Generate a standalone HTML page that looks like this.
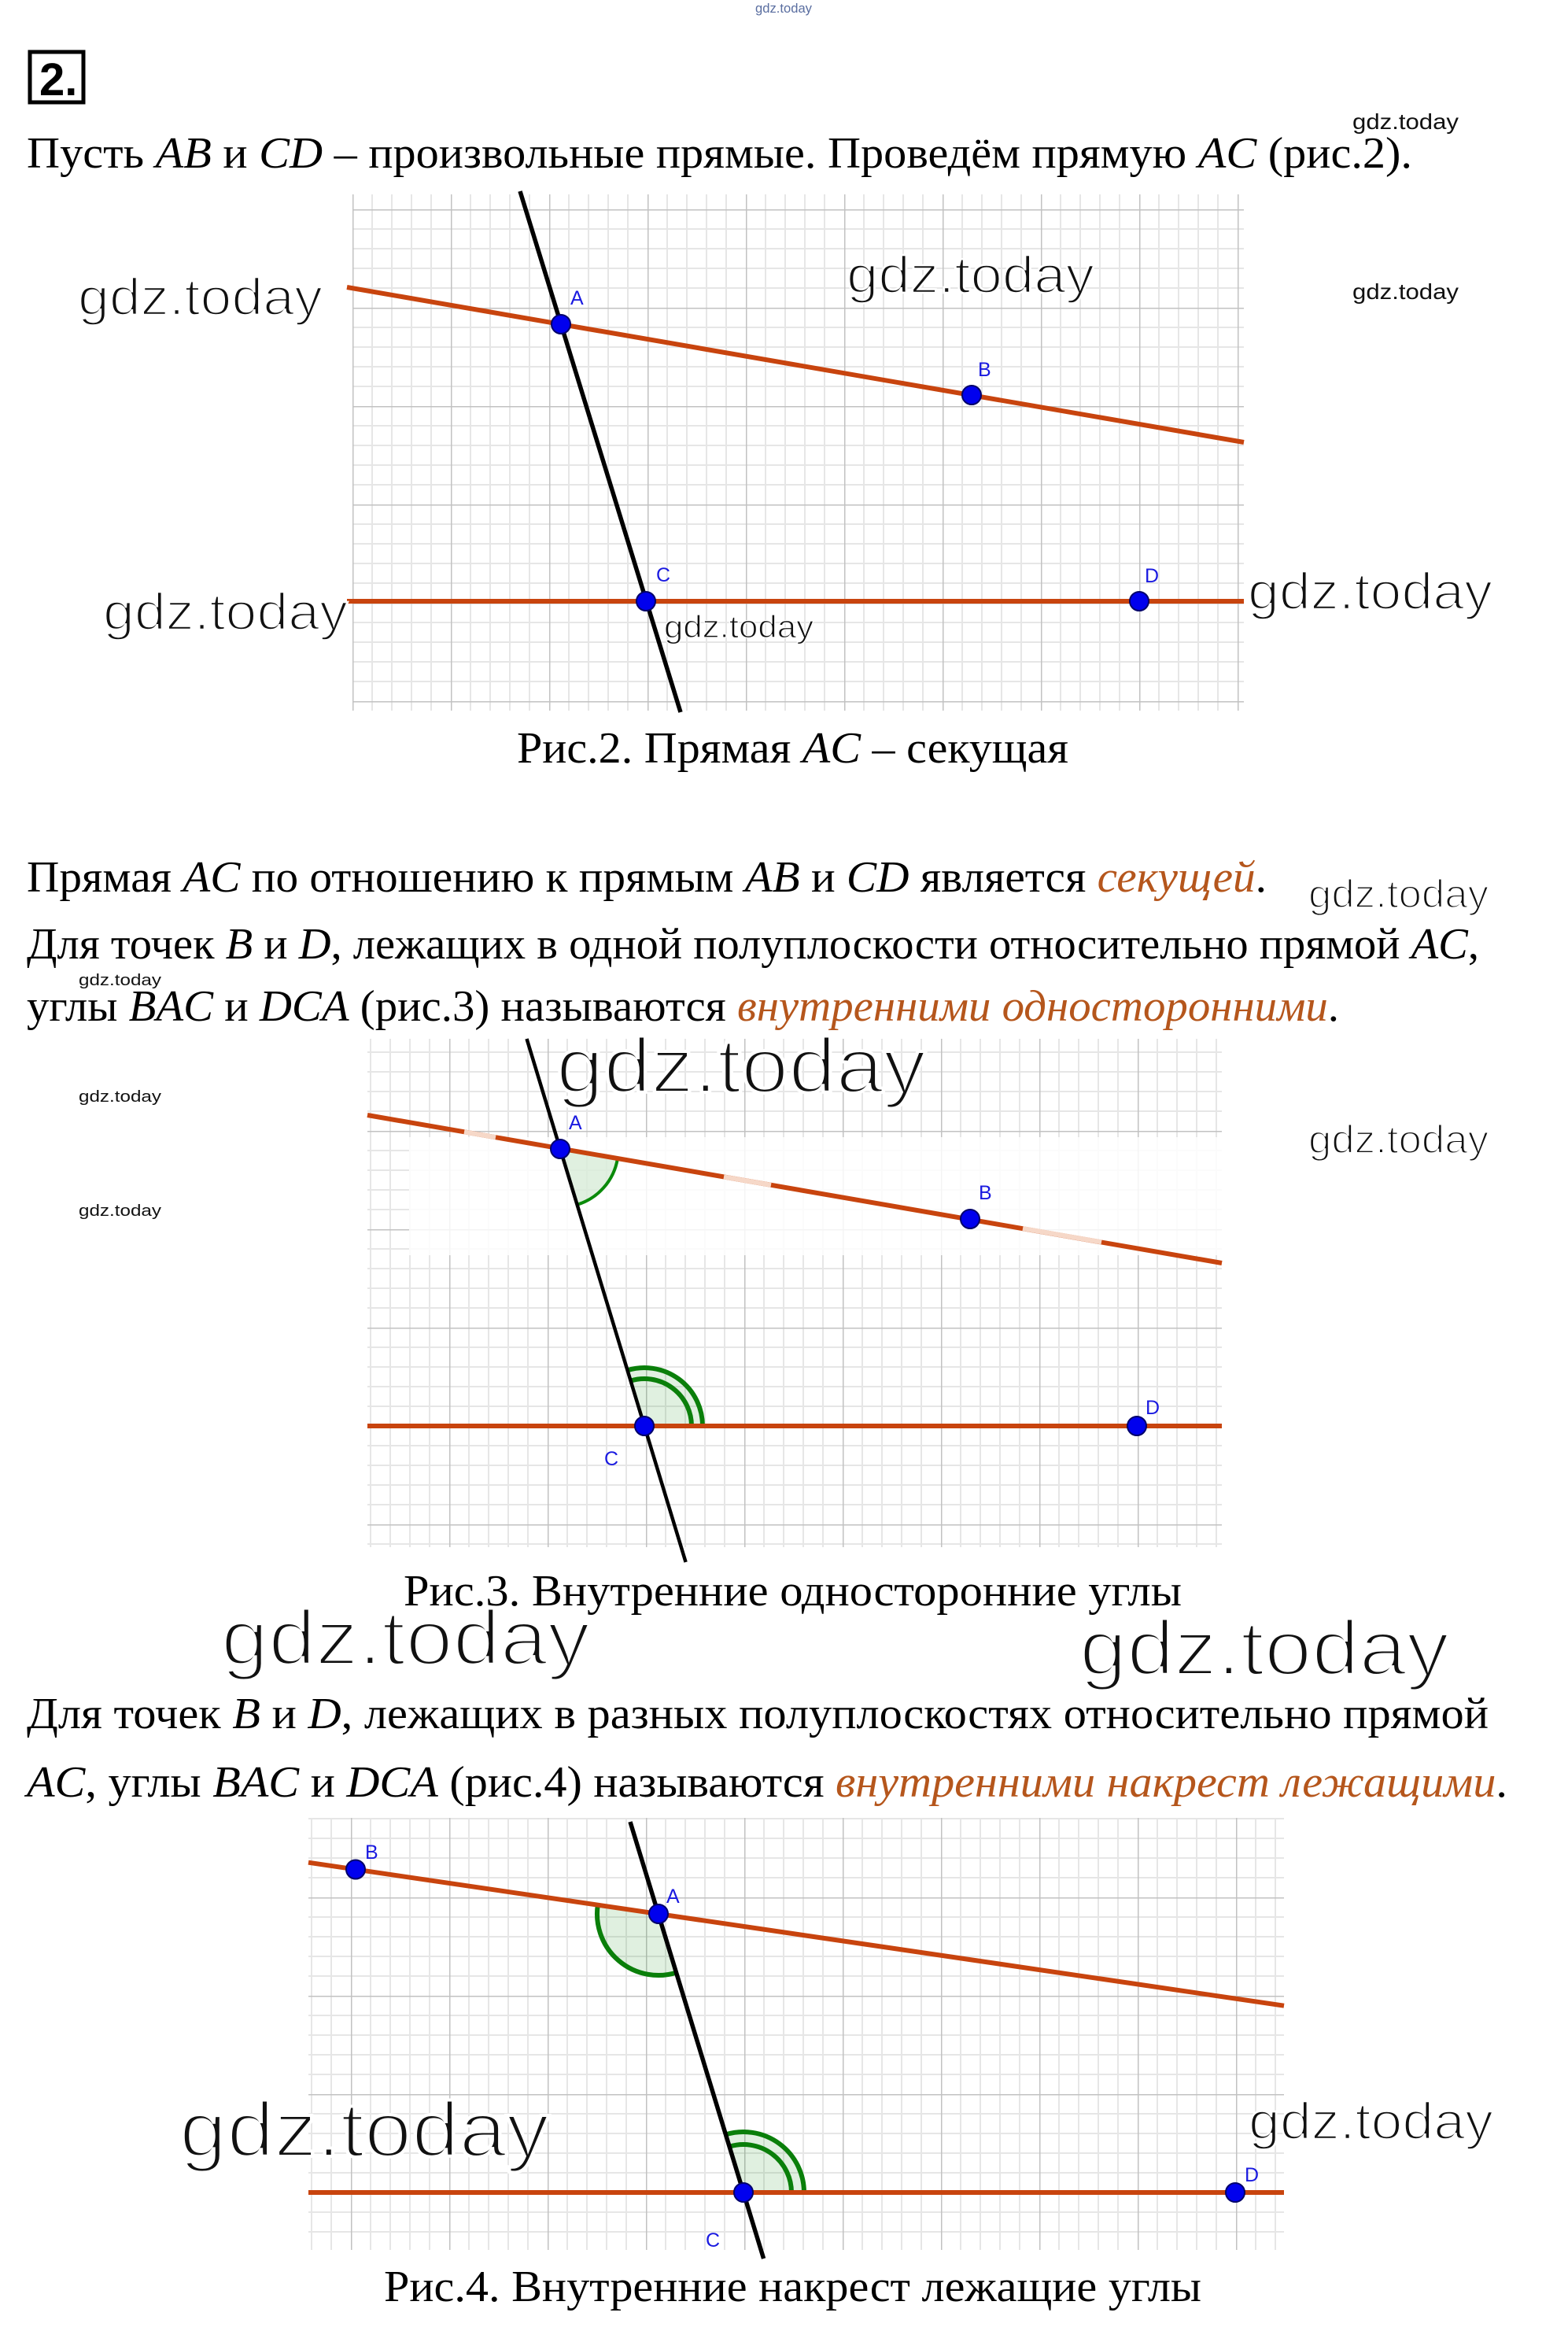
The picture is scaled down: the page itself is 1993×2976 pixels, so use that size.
<!DOCTYPE html>
<html><head><meta charset="utf-8"><style>html,body{margin:0;padding:0;background:#fff}svg{display:block}</style></head>
<body>
<svg xmlns="http://www.w3.org/2000/svg" width="1993" height="2976" viewBox="0 0 1993 2976">
<defs>
<pattern id="g2" patternUnits="userSpaceOnUse" x="448" y="266" width="125" height="125">
<path d="M25 0V125M50 0V125M75 0V125M100 0V125M0 25H125M0 50H125M0 75H125M0 100H125" stroke="#e6e6e6" stroke-width="2" fill="none"/>
<path d="M0 0V125M0 0H125" stroke="#c2c2c2" stroke-width="3" fill="none"/>
</pattern>
<pattern id="g3" patternUnits="userSpaceOnUse" x="571" y="1437" width="125" height="125">
<path d="M25 0V125M50 0V125M75 0V125M100 0V125M0 25H125M0 50H125M0 75H125M0 100H125" stroke="#e6e6e6" stroke-width="2" fill="none"/>
<path d="M0 0V125M0 0H125" stroke="#c2c2c2" stroke-width="3" fill="none"/>
</pattern>
<pattern id="g4" patternUnits="userSpaceOnUse" x="946" y="2786" width="125" height="125">
<path d="M25 0V125M50 0V125M75 0V125M100 0V125M0 25H125M0 50H125M0 75H125M0 100H125" stroke="#e6e6e6" stroke-width="2" fill="none"/>
<path d="M0 0V125M0 0H125" stroke="#c2c2c2" stroke-width="3" fill="none"/>
</pattern>
</defs>

<g font-family="Liberation Sans, sans-serif" fill="#111">
<text x="960" y="16" font-size="17" fill="#5a6ea0" textLength="72" lengthAdjust="spacingAndGlyphs">gdz.today</text>
</g>

<rect x="38" y="66" width="68" height="64" fill="none" stroke="#000" stroke-width="5"/>
<text x="50" y="121" font-family="Liberation Sans, sans-serif" font-weight="bold" font-size="58">2.</text>

<g font-family="Liberation Serif, serif" font-size="56" fill="#000">
<text x="34" y="213" textLength="1761" lengthAdjust="spacingAndGlyphs">Пусть <tspan font-style="italic">AB</tspan> и <tspan font-style="italic">CD</tspan> – произвольные прямые. Проведём прямую <tspan font-style="italic">AC</tspan> (рис.2).</text>
<text x="657" y="969" textLength="701" lengthAdjust="spacingAndGlyphs">Рис.2. Прямая <tspan font-style="italic">AC</tspan> – секущая</text>
<text x="34" y="1133" textLength="1576" lengthAdjust="spacingAndGlyphs">Прямая <tspan font-style="italic">AC</tspan> по отношению к прямым <tspan font-style="italic">AB</tspan> и <tspan font-style="italic">CD</tspan> является <tspan font-style="italic" fill="#b5561c">секущей</tspan>.</text>
<text x="34" y="1218" textLength="1846" lengthAdjust="spacingAndGlyphs">Для точек <tspan font-style="italic">B</tspan> и <tspan font-style="italic">D</tspan>, лежащих в одной полуплоскости относительно прямой <tspan font-style="italic">AC</tspan>,</text>
<text x="34" y="1297" textLength="1668" lengthAdjust="spacingAndGlyphs">углы <tspan font-style="italic">BAC</tspan> и <tspan font-style="italic">DCA</tspan> (рис.3) называются <tspan font-style="italic" fill="#b5561c">внутренними односторонними</tspan>.</text>
<text x="513" y="2040" textLength="989" lengthAdjust="spacingAndGlyphs">Рис.3. Внутренние односторонние углы</text>
<text x="34" y="2196" textLength="1858" lengthAdjust="spacingAndGlyphs">Для точек <tspan font-style="italic">B</tspan> и <tspan font-style="italic">D</tspan>, лежащих в разных полуплоскостях относительно прямой</text>
<text x="34" y="2283" textLength="1882" lengthAdjust="spacingAndGlyphs"><tspan font-style="italic">AC</tspan>, углы <tspan font-style="italic">BAC</tspan> и <tspan font-style="italic">DCA</tspan> (рис.4) называются <tspan font-style="italic" fill="#b5561c">внутренними накрест лежащими</tspan>.</text>
<text x="488" y="2924" textLength="1039" lengthAdjust="spacingAndGlyphs">Рис.4. Внутренние накрест лежащие углы</text>
</g>

<!-- FIG 2 -->
<rect x="448" y="247" width="1133" height="656" fill="url(#g2)"/>
<line x1="441" y1="365" x2="1581" y2="562" stroke="#c8440e" stroke-width="6"/>
<line x1="441" y1="764" x2="1581" y2="764" stroke="#c8440e" stroke-width="6"/>
<line x1="661" y1="243" x2="865" y2="905" stroke="#000" stroke-width="5.5"/>
<g fill="#0000ee" stroke="#00006a" stroke-width="2">
<circle cx="713" cy="412" r="12"/><circle cx="1235" cy="502" r="12"/><circle cx="821" cy="764" r="12"/><circle cx="1448" cy="764" r="12"/>
</g>
<g font-family="Liberation Sans, sans-serif" font-size="25" fill="#1a1ae0">
<text x="725" y="387">A</text><text x="1243" y="478">B</text><text x="834" y="739">C</text><text x="1455" y="740">D</text>
</g>

<!-- FIG 3 -->
<rect x="467" y="1320" width="1086" height="646" fill="url(#g3)"/>
<rect x="520" y="1445" width="1033" height="150" fill="#fff" opacity="0.82"/>
<path d="M712 1460 L784.9 1472.6 A74 74 0 0 1 733.5 1530.8 Z" fill="rgba(0,128,0,0.12)" stroke="none"/>
<path d="M784.9 1472.6 A74 74 0 0 1 733.5 1530.8" fill="none" stroke="#0a8a0a" stroke-width="4"/>
<path d="M819 1812 L797.5 1741.2 A74 74 0 0 1 893 1812 Z" fill="rgba(0,128,0,0.12)"/>
<path d="M797.5 1741.2 A74 74 0 0 1 893 1812" fill="none" stroke="#0a7f0a" stroke-width="6"/>
<path d="M801.6 1754.6 A60 60 0 0 1 879 1812" fill="none" stroke="#0a7f0a" stroke-width="6"/>
<line x1="467" y1="1417" x2="1553" y2="1605" stroke="#c8440e" stroke-width="6"/>
<g stroke="#f6d8c8" stroke-width="6">
<line x1="590" y1="1438.3" x2="630" y2="1445.2"/><line x1="920" y1="1495.4" x2="980" y2="1505.8"/><line x1="1300" y1="1561.1" x2="1400" y2="1578.4"/>
</g>
<line x1="467" y1="1812" x2="1553" y2="1812" stroke="#c8440e" stroke-width="6"/>
<line x1="669.5" y1="1320" x2="871.6" y2="1985" stroke="#000" stroke-width="4.5"/>
<g fill="#0000ee" stroke="#00006a" stroke-width="2">
<circle cx="712" cy="1460" r="12"/><circle cx="1233" cy="1549" r="12"/><circle cx="819" cy="1812" r="12"/><circle cx="1445" cy="1812" r="12"/>
</g>
<g font-family="Liberation Sans, sans-serif" font-size="25" fill="#1a1ae0">
<text x="723" y="1435">A</text><text x="1244" y="1524">B</text><text x="768" y="1862">C</text><text x="1456" y="1797">D</text>
</g>

<!-- FIG 4 -->
<rect x="392" y="2310" width="1240" height="549" fill="url(#g4)"/>
<path d="M837 2432 L859.8 2506.6 A78 78 0 0 1 759.8 2420.7 Z" fill="rgba(0,128,0,0.12)"/>
<path d="M859.8 2506.6 A78 78 0 0 1 759.8 2420.7" fill="none" stroke="#0a7f0a" stroke-width="6"/>
<path d="M945 2786 L922.5 2712.4 A77 77 0 0 1 1022 2786 Z" fill="rgba(0,128,0,0.12)"/>
<path d="M922.5 2712.4 A77 77 0 0 1 1022 2786" fill="none" stroke="#0a7f0a" stroke-width="6"/>
<path d="M927.2 2727.7 A61 61 0 0 1 1006 2786" fill="none" stroke="#0a7f0a" stroke-width="6"/>
<line x1="392" y1="2366.7" x2="1632" y2="2548.7" stroke="#c8440e" stroke-width="6"/>
<line x1="392" y1="2786" x2="1632" y2="2786" stroke="#c8440e" stroke-width="6"/>
<line x1="801" y1="2315" x2="970.6" y2="2870" stroke="#000" stroke-width="5.5"/>
<g fill="#0000ee" stroke="#00006a" stroke-width="2">
<circle cx="452" cy="2375.5" r="12"/><circle cx="837" cy="2432" r="12"/><circle cx="945" cy="2786" r="12"/><circle cx="1570" cy="2786" r="12"/>
</g>
<g font-family="Liberation Sans, sans-serif" font-size="25" fill="#1a1ae0">
<text x="464" y="2362">B</text><text x="847" y="2418">A</text><text x="897" y="2855">C</text><text x="1582" y="2772">D</text>
</g>

<!-- watermarks -->
<g font-family="Liberation Sans, DejaVu Sans, sans-serif" fill="#111" stroke="#fff">
<text x="1719" y="164" font-size="28" stroke-width="0" textLength="135" lengthAdjust="spacingAndGlyphs">gdz.today</text>
<text x="99" y="400" font-size="66" stroke-width="2.5" textLength="311" lengthAdjust="spacingAndGlyphs">gdz.today</text>
<text x="1076" y="372" font-size="66" stroke-width="2.5" textLength="315" lengthAdjust="spacingAndGlyphs">gdz.today</text>
<text x="1719" y="380" font-size="28" stroke-width="0" textLength="135" lengthAdjust="spacingAndGlyphs">gdz.today</text>
<text x="131" y="800" font-size="66" stroke-width="2.5" textLength="311" lengthAdjust="spacingAndGlyphs">gdz.today</text>
<text x="844" y="810" font-size="40" stroke-width="1.2" textLength="190" lengthAdjust="spacingAndGlyphs">gdz.today</text>
<text x="1586" y="774" font-size="66" stroke-width="2.5" textLength="311" lengthAdjust="spacingAndGlyphs">gdz.today</text>
<text x="1663" y="1153" font-size="50" stroke-width="2" textLength="229" lengthAdjust="spacingAndGlyphs">gdz.today</text>
<text x="100" y="1252" font-size="20" stroke-width="0" textLength="105" lengthAdjust="spacingAndGlyphs">gdz.today</text>
<text x="707" y="1388" font-size="98" stroke-width="4" textLength="470" lengthAdjust="spacingAndGlyphs">gdz.today</text>
<text x="100" y="1400" font-size="20" stroke-width="0" textLength="105" lengthAdjust="spacingAndGlyphs">gdz.today</text>
<text x="100" y="1545" font-size="20" stroke-width="0" textLength="105" lengthAdjust="spacingAndGlyphs">gdz.today</text>
<text x="1663" y="1465" font-size="50" stroke-width="2" textLength="229" lengthAdjust="spacingAndGlyphs">gdz.today</text>
<text x="281" y="2115" font-size="98" stroke-width="4" textLength="469" lengthAdjust="spacingAndGlyphs">gdz.today</text>
<text x="1372" y="2128" font-size="98" stroke-width="4" textLength="470" lengthAdjust="spacingAndGlyphs">gdz.today</text>
<text x="228" y="2740" font-size="98" stroke-width="4" textLength="470" lengthAdjust="spacingAndGlyphs">gdz.today</text>
<text x="1587" y="2718" font-size="66" stroke-width="2.5" textLength="311" lengthAdjust="spacingAndGlyphs">gdz.today</text>
</g>
</svg>
</body></html>
